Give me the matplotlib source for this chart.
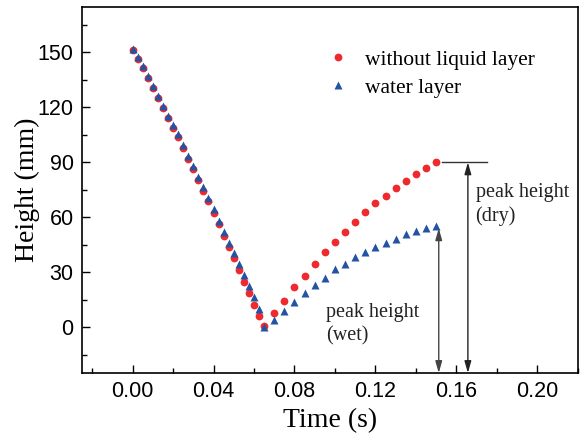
import matplotlib
matplotlib.use("Agg")
import matplotlib.pyplot as plt
from matplotlib.ticker import MultipleLocator

# time axis (s)
t_down = [0.0, 0.0025, 0.005, 0.0075, 0.01, 0.0125, 0.015, 0.0175, 0.02,
          0.0225, 0.025, 0.0275, 0.03, 0.0325, 0.035, 0.0375, 0.04, 0.0425,
          0.045, 0.0475, 0.05, 0.0525, 0.055, 0.0575, 0.06, 0.0625, 0.065]
t_up = [0.07, 0.075, 0.08, 0.085, 0.09, 0.095, 0.1, 0.105, 0.11, 0.115,
        0.12, 0.125, 0.13, 0.135, 0.14, 0.145, 0.15]

# without liquid layer (dry)
dry_down = [151.5, 146.6, 141.5, 136.2, 130.8, 125.4, 119.8, 114.2, 108.9,
            103.9, 97.9, 91.8, 86.3, 80.3, 74.5, 68.7, 62.4, 56.2,
            50.0, 43.9, 37.9, 31.5, 24.8, 18.7, 12.4, 6.0, 0.8]
dry_up = [7.5, 14.3, 21.8, 27.8, 34.4, 40.9, 46.4, 51.8, 57.3, 62.7,
          67.6, 71.5, 75.8, 79.6, 83.5, 86.7, 90.0]

# water layer (wet)
wet_down = [152.0, 147.4, 142.4, 137.2, 131.8, 126.5, 120.9, 115.4, 110.2,
            105.3, 99.4, 93.4, 88.0, 82.1, 76.4, 70.7, 64.5, 57.8,
            51.8, 46.2, 40.4, 34.5, 28.5, 22.5, 16.4, 9.8, 0.3]
wet_up = [3.7, 8.9, 13.8, 18.5, 22.9, 27.1, 31.6, 34.7, 38.3, 41.1,
          44.0, 46.2, 48.4, 50.7, 52.5, 54.0, 55.3]

t_dry = t_down + t_up
h_dry = dry_down + dry_up
t_wet = t_down + t_up
h_wet = wet_down + wet_up

SERIF = "Liberation Serif"
SANS = "Liberation Sans"
RED = "#EE2A2E"
BLUE = "#2453A3"

fig = plt.figure(figsize=(5.83, 4.38), dpi=100)
ax = fig.add_axes([0.1407, 0.1484, 0.8503, 0.8363])

ax.plot(t_dry, h_dry, "o", color=RED, ms=5.6, mec="none", label="without liquid layer")
ax.plot(t_wet, h_wet, "^", color=BLUE, ms=6.4, mec="none", label="water layer")

ax.set_xlim(-0.025, 0.22)
ax.set_ylim(-25, 175)
ax.xaxis.set_major_locator(MultipleLocator(0.04))
ax.xaxis.set_minor_locator(MultipleLocator(0.02))
ax.yaxis.set_major_locator(MultipleLocator(30))
ax.yaxis.set_minor_locator(MultipleLocator(15))
ax.tick_params(which="both", direction="in", top=False, right=False, width=1.0)
ax.tick_params(which="major", length=6, labelsize=15.5, pad=6)
ax.tick_params(which="minor", length=3.5)
for lab in ax.get_xticklabels() + ax.get_yticklabels():
    lab.set_fontfamily(SANS)
ax.set_xticks([0.0, 0.04, 0.08, 0.12, 0.16, 0.20])
ax.set_xticklabels(["0.00", "0.04", "0.08", "0.12", "0.16", "0.20"], fontfamily=SANS)
for s in ax.spines.values():
    s.set_linewidth(1.2)

ax.set_xlabel("Time (s)", fontfamily=SERIF, fontsize=20, labelpad=4)
ax.set_ylabel("Height (mm)", fontfamily=SERIF, fontsize=20, labelpad=-2)

leg = ax.legend(loc="upper left", bbox_to_anchor=(0.442, 0.935), frameon=False,
                prop={"family": SERIF, "size": 15.5}, handletextpad=0.45,
                handlelength=1.6, labelspacing=0.35, markerscale=1.0)

# peak height annotations
ax.plot([0.153, 0.175], [90, 90], color="#333333", lw=1.0)
ax.annotate("", xy=(0.1657, 90), xytext=(0.1657, -25),
            arrowprops=dict(arrowstyle="<|-|>,head_length=0.7,head_width=0.2",
                            color="#222222", lw=1.0, shrinkA=0, shrinkB=0))
ax.annotate("", xy=(0.1513, 54), xytext=(0.1513, -25),
            arrowprops=dict(arrowstyle="<|-|>,head_length=0.7,head_width=0.2",
                            color="#444444", lw=1.0, shrinkA=0, shrinkB=0))
ax.text(0.1695, 79, "peak height\n(dry)", fontfamily=SERIF, fontsize=14.5,
        ha="left", va="top", linespacing=1.3, color="#222222")
ax.text(0.0958, 13, "peak height\n(wet)", fontfamily=SERIF, fontsize=14.5,
        ha="left", va="top", linespacing=1.3, color="#222222")

fig.savefig("out.png", dpi=100)
